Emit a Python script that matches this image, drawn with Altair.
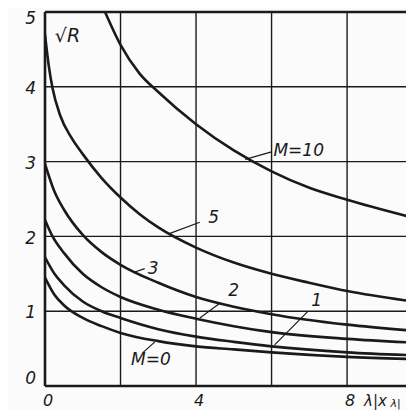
import altair as alt
import pandas as pd

# grid / ticks
x_grid = [2, 4, 6, 8]
y_grid = [1, 2, 3, 4]
x_ticks = [0, 4, 8]
y_ticks = [0, 1, 2, 3, 4, 5]

# curves sqrt(R) vs lambda|x_lambda| for several M
m0_x = [0, 0.25, 0.5, 1.0, 1.5, 2, 3, 4, 5, 6, 8, 9.75]
m0_y = [1.45, 1.22, 1.08, 0.91, 0.80, 0.71, 0.60, 0.53, 0.49, 0.45, 0.39, 0.36]
m1_x = [0, 0.25, 0.5, 1.0, 1.5, 2, 3, 4, 5, 6, 8, 9.75]
m1_y = [1.72, 1.50, 1.35, 1.13, 1.00, 0.91, 0.76, 0.66, 0.59, 0.53, 0.45, 0.41]
m2_x = [0, 0.2, 0.5, 1.0, 1.5, 2, 3, 4, 5, 6, 8, 9.75]
m2_y = [2.22, 2.00, 1.78, 1.50, 1.32, 1.19, 1.02, 0.90, 0.80, 0.72, 0.63, 0.58]
m3_x = [0, 0.25, 0.5, 1.0, 1.5, 2, 3, 4, 5, 6, 8, 9.75]
m3_y = [2.97, 2.60, 2.36, 2.02, 1.79, 1.62, 1.38, 1.19, 1.06, 0.96, 0.82, 0.74]
m5_x = [0, 0.1, 0.2, 0.4, 0.7, 1.0, 1.5, 2, 2.5, 3, 4, 5, 6, 7, 8, 9.75]
m5_y = [4.70, 4.28, 3.98, 3.62, 3.32, 3.10, 2.78, 2.52, 2.30, 2.12, 1.85, 1.65, 1.50, 1.38, 1.27, 1.13]
m10_x = [1.59, 2.0, 2.5, 3.0, 4, 5, 6, 7, 8, 9.75]
m10_y = [5.00, 4.56, 4.18, 3.93, 3.50, 3.15, 2.87, 2.65, 2.49, 2.25]

curves = {"0": (m0_x, m0_y), "1": (m1_x, m1_y), "2": (m2_x, m2_y),
          "3": (m3_x, m3_y), "5": (m5_x, m5_y), "10": (m10_x, m10_y)}

# annotation labels and leader lines
lab_text = ["M=10", "5", "3", "2", "1", "M=0"]
lab_x = [6.05, 4.32, 2.72, 4.85, 7.05, 2.28]
lab_y = [3.14, 2.25, 1.57, 1.27, 1.13, 0.35]
lead_x = [5.30, 3.31, 2.36, 4.10, 6.08, 2.60]
lead_y = [3.03, 2.04, 1.52, 0.91, 0.55, 0.45]
lead_x2 = [6.00, 4.10, 2.64, 4.64, 6.95, 2.91]
lead_y2 = [3.13, 2.19, 1.57, 1.11, 0.99, 0.59]

rows = []
for m, (xs, ys) in curves.items():
    for a, b in zip(xs, ys):
        rows.append({"M": m, "x": a, "y": b})
curve_df = pd.DataFrame(rows)

X = alt.Scale(domain=[0, 9.56], nice=False, zero=False)
Y = alt.Scale(domain=[0, 5], nice=False, zero=False)
FONT = "DejaVu Sans"
INK = "#1a1a1a"


def enc(c):
    return c.encode(x=alt.X("x:Q", scale=X, axis=None), y=alt.Y("y:Q", scale=Y, axis=None))


vgrid = alt.Chart(pd.DataFrame({"x": x_grid})).mark_rule(color=INK, strokeWidth=1.4).encode(
    x=alt.X("x:Q", scale=X, axis=None))
hgrid = alt.Chart(pd.DataFrame({"y": y_grid})).mark_rule(color=INK, strokeWidth=1.4).encode(
    y=alt.Y("y:Q", scale=Y, axis=None))
border_v = alt.Chart(pd.DataFrame({"x": [0]})).mark_rule(color=INK, strokeWidth=2.6).encode(
    x=alt.X("x:Q", scale=X, axis=None))
border_h = alt.Chart(pd.DataFrame({"y": [0, 5]})).mark_rule(color=INK, strokeWidth=2.4).encode(
    y=alt.Y("y:Q", scale=Y, axis=None))

lines = alt.Chart(curve_df).mark_line(color=INK, strokeWidth=2.6, interpolate="monotone", clip=True).encode(
    x=alt.X("x:Q", scale=X, axis=None),
    y=alt.Y("y:Q", scale=Y, axis=None),
    detail="M:N")

lead_df = pd.DataFrame({"x": lead_x, "y": lead_y, "x2": lead_x2, "y2": lead_y2})
leaders = alt.Chart(lead_df).mark_rule(color=INK, strokeWidth=1.2).encode(
    x=alt.X("x:Q", scale=X, axis=None), y=alt.Y("y:Q", scale=Y, axis=None),
    x2="x2:Q", y2="y2:Q")

lab_df = pd.DataFrame({"t": lab_text, "x": lab_x, "y": lab_y})
labels = enc(alt.Chart(lab_df).mark_text(font=FONT, fontStyle="italic", fontSize=17, color=INK,
                                         align="left", baseline="middle")).encode(text="t:N")

xt_df = pd.DataFrame({"t": [str(v) for v in x_ticks], "x": [v + 0.08 for v in x_ticks],
                      "y": [-0.31] * len(x_ticks)})
xticks = enc(alt.Chart(xt_df).mark_text(font=FONT, fontStyle="italic", fontSize=16, color=INK,
                                        align="center", baseline="bottom")).encode(text="t:N")
low = y_ticks[:-1]
yt_df = pd.DataFrame({"t": [str(v) for v in low], "x": [-0.38] * len(low),
                      "y": [v + (0.09 if v == 0 else -0.03) for v in low]})
yticks = enc(alt.Chart(yt_df).mark_text(font=FONT, fontStyle="italic", fontSize=17, color=INK,
                                        align="center", baseline="middle")).encode(text="t:N")
ytop_df = pd.DataFrame({"t": [str(y_ticks[-1])], "x": [-0.38], "y": [y_ticks[-1] + 0.01]})
ytop = enc(alt.Chart(ytop_df).mark_text(font=FONT, fontStyle="italic", fontSize=17, color=INK,
                                        align="center", baseline="top")).encode(text="t:N")

ylab = enc(alt.Chart(pd.DataFrame({"t": ["√R"], "x": [0.26], "y": [4.68]})).mark_text(
    font=FONT, fontStyle="italic", fontSize=19, color=INK, align="left", baseline="middle")).encode(text="t:N")
xlab = enc(alt.Chart(pd.DataFrame({"t": ["λ|x"], "x": [8.45], "y": [-0.31]})).mark_text(
    font=FONT, fontStyle="italic", fontSize=15, color=INK, align="left", baseline="bottom")).encode(text="t:N")
xsub = enc(alt.Chart(pd.DataFrame({"t": ["λ|"], "x": [9.15], "y": [-0.31]})).mark_text(
    font=FONT, fontStyle="italic", fontSize=11, color=INK, align="left", baseline="bottom")).encode(text="t:N")

chart = alt.layer(vgrid, hgrid, border_v, border_h, lines, leaders, labels, xticks, yticks, ytop,
                  ylab, xlab, xsub).properties(
    width=361, height=374,
    padding={"left": 37, "top": 4, "right": 0, "bottom": 24},
    autosize=alt.AutoSizeParams(type="none"),
    background="#fbfbfb",
).configure_view(stroke=None)

chart.save("out.html", embed_options={"renderer": "svg", "actions": False})
